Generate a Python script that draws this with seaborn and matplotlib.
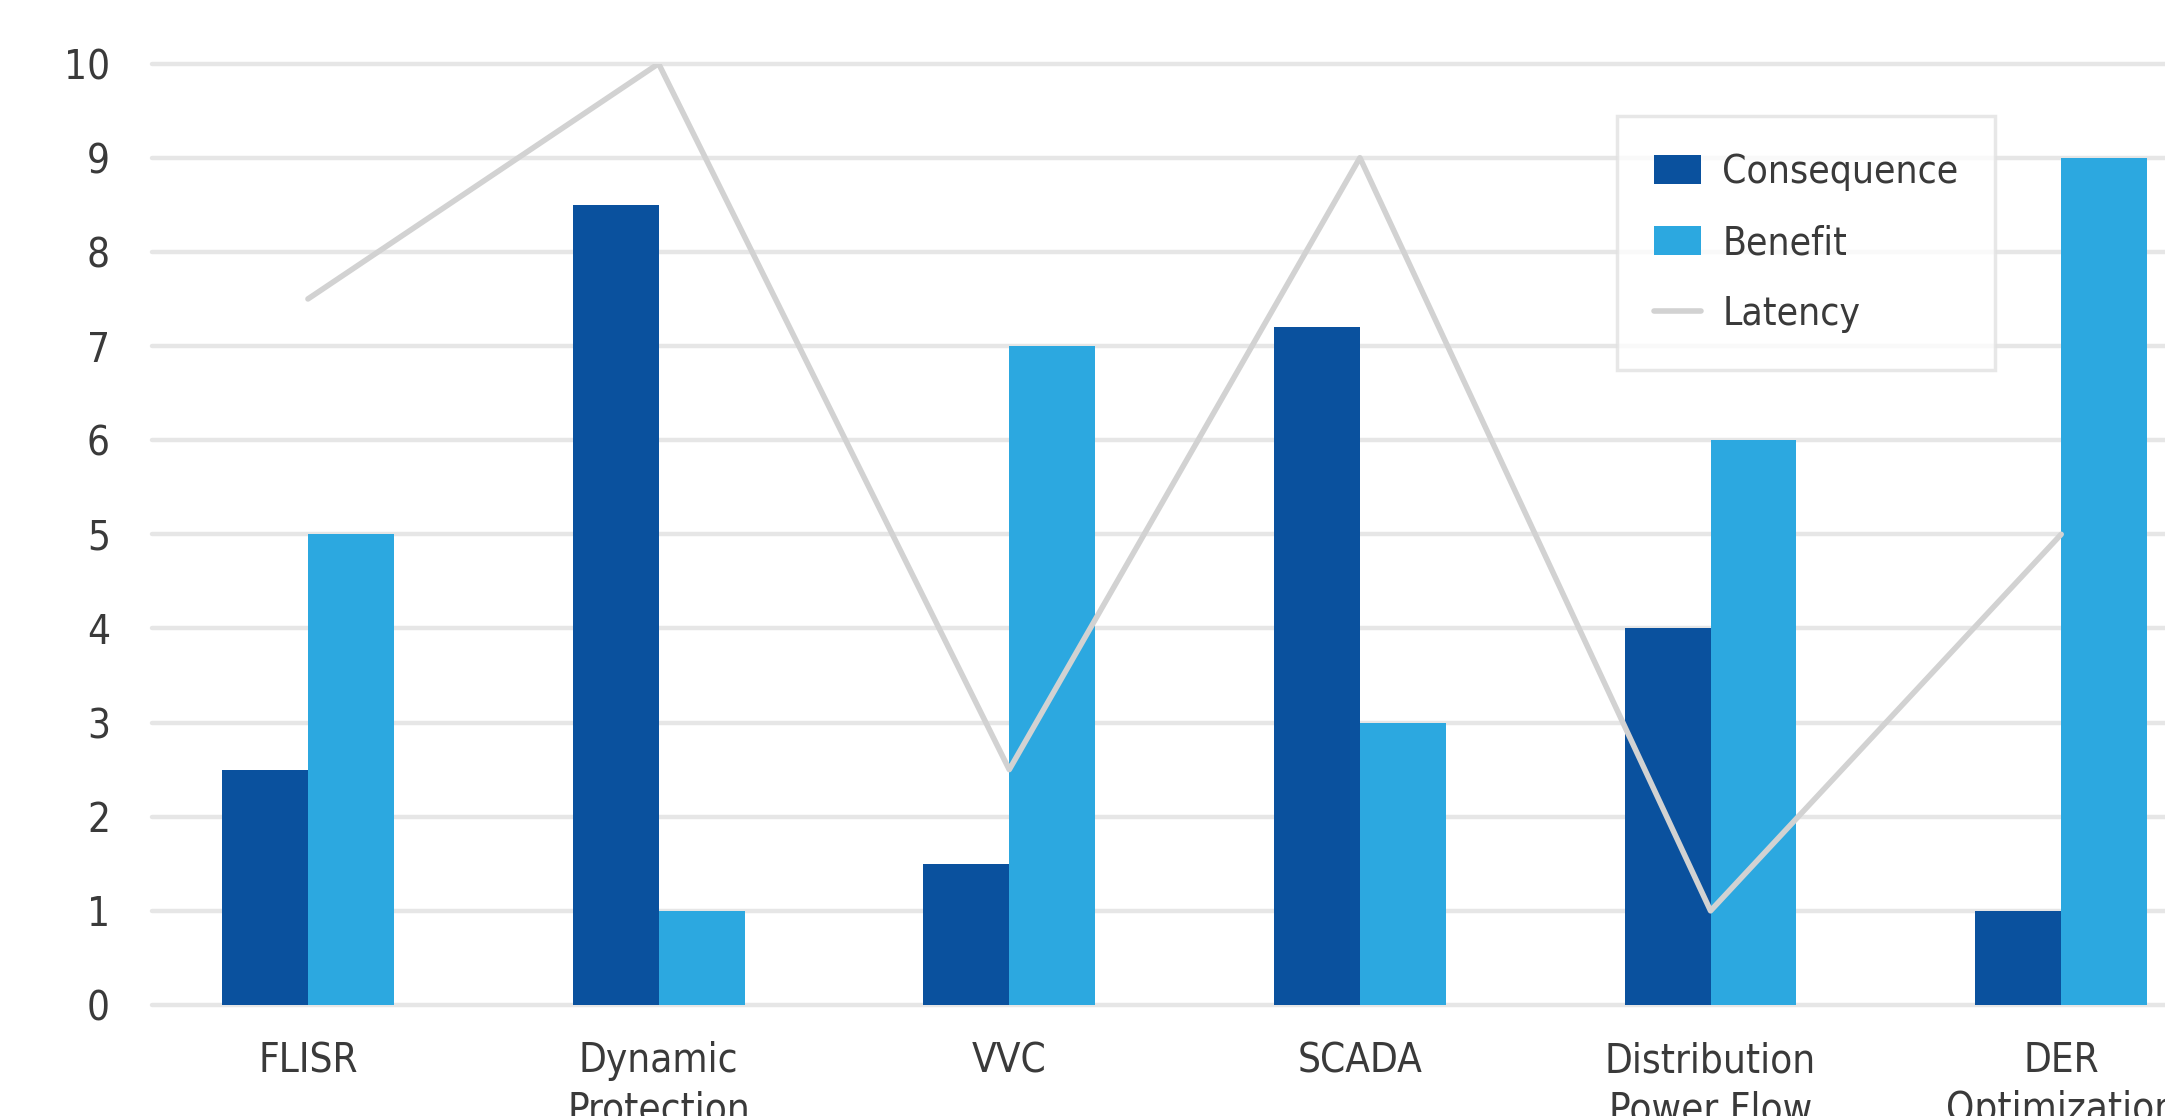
import numpy as np
import pandas as pd
import seaborn as sns
from matplotlib import pyplot as plt
from matplotlib.patches import Patch
from matplotlib.lines import Line2D

# chart values
apps = ["FLISR", "Dynamic\nProtection", "VVC", "SCADA",
        "Distribution\nPower Flow", "DER\nOptimization"]
consequence = [2.5, 8.5, 1.5, 7.2, 4.0, 1.0]
benefit = [5.0, 1.0, 7.0, 3.0, 6.0, 9.0]
latency = [7.5, 10.0, 2.5, 9.0, 1.0, 5.0]

dark = "#0a519e"
light = "#2ca8e0"
grey = "#d2d2d2"

df = pd.DataFrame({
    "app": apps * 2,
    "value": consequence + benefit,
    "kind": ["Consequence"] * len(apps) + ["Benefit"] * len(apps),
})

sns.set_style("white")
plt.rcParams["font.family"] = ["DejaVu Sans"]
plt.rcParams["font.stretch"] = "condensed"

fig = plt.figure(figsize=(21.65, 11.16), dpi=100)
ax = fig.add_axes([0.070, 0.0995, 0.930, 0.8435])

sns.barplot(data=df, x="app", y="value", hue="kind", order=apps,
            hue_order=["Consequence", "Benefit"], palette=[dark, light],
            saturation=1, width=0.49, linewidth=0, ax=ax, legend=False,
            zorder=2)

ax.plot(np.arange(len(apps)), latency, color=grey, lw=4, zorder=3)

ax.set_xlim(-0.446, 5.296)
ax.set_ylim(0, 10)
ax.set_yticks(range(0, 11))
for y in range(0, 11):
    ax.axhline(y, color="#e6e6e6", lw=3.2, zorder=1, clip_on=False)
ax.grid(False)
sns.despine(ax=ax, left=True, bottom=True)
ax.set_xlabel("")
ax.set_ylabel("")
ax.tick_params(axis="both", length=0, labelsize=29, labelcolor="#3a3a3a")
ax.tick_params(axis="y", pad=30)
ax.tick_params(axis="x", pad=26)
for t in ax.get_xticklabels():
    t.set_linespacing(1.3)

handles = [Patch(facecolor=dark, edgecolor="none"),
           Patch(facecolor=light, edgecolor="none"),
           Line2D([0], [0], color=grey, lw=4)]
leg = fig.legend(handles, ["Consequence", "Benefit", "Latency"],
                 loc="upper left", bbox_to_anchor=(0.747, 0.896),
                 fontsize=28, frameon=True, fancybox=False,
                 handlelength=1.2, handleheight=0.75, handletextpad=0.55,
                 labelspacing=0.85, borderpad=0.95, borderaxespad=0)
leg.get_frame().set_edgecolor("#e2e2e2")
leg.get_frame().set_linewidth(2.5)
for t in leg.get_texts():
    t.set_color("#3a3a3a")

fig.savefig("out.png", dpi=100)
